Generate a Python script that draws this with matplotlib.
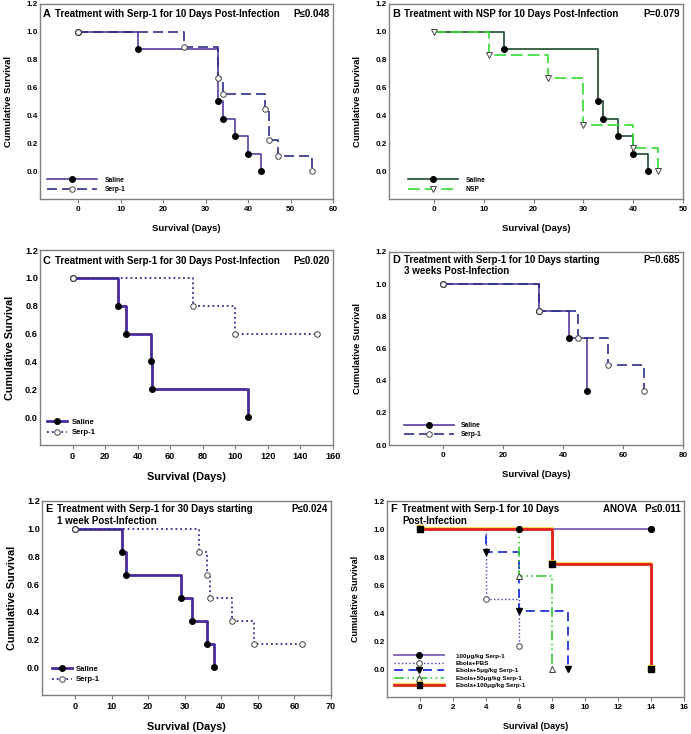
import matplotlib
matplotlib.use("Agg")
from matplotlib import pyplot as plt
from matplotlib import patheffects as pe

plt.rcParams['font.family'] = ['Liberation Sans', 'DejaVu Sans']
plt.rcParams['font.weight'] = 'bold'

# ---- data (days, cumulative survival) ----
# Panel A
a_saline_t = [0, 14, 33, 34, 37, 40, 43]
a_saline_s = [1.0, 0.875, 0.5, 0.375, 0.25, 0.125, 0.0]
a_serp_t = [0, 25, 33, 34, 44, 45, 47, 55]
a_serp_s = [1.0, 0.889, 0.667, 0.556, 0.444, 0.222, 0.111, 0.0]

# Panel B
b_saline_t = [0, 14, 33, 34, 37, 40, 43]
b_saline_s = [1.0, 0.875, 0.5, 0.375, 0.25, 0.125, 0.0]
b_nsp_t = [0, 11, 23, 30, 40, 45]
b_nsp_s = [1.0, 0.833, 0.667, 0.333, 0.167, 0.0]

# Panel C
c_saline_t = [0, 28, 33, 48, 49, 108]
c_saline_s = [1.0, 0.8, 0.6, 0.4, 0.2, 0.0]
c_serp_t = [0, 74, 100, 150]
c_serp_s = [1.0, 0.8, 0.6, 0.6]

# Panel D
d_saline_t = [0, 32, 42, 48]
d_saline_s = [1.0, 0.833, 0.667, 0.333]
d_serp_t = [0, 32, 45, 55, 67]
d_serp_s = [1.0, 0.833, 0.667, 0.5, 0.333]

# Panel E
e_saline_t = [0, 13, 14, 29, 32, 36, 38]
e_saline_s = [1.0, 0.833, 0.667, 0.5, 0.333, 0.167, 0.0]
e_serp_t = [0, 34, 36, 37, 43, 49, 62]
e_serp_s = [1.0, 0.833, 0.667, 0.5, 0.333, 0.167, 0.167]

# Panel F
f_labels = ['100\u03bcg/kg Serp-1', 'Ebola+PBS', 'Ebola+5\u03bcg/kg Serp-1',
            'Ebola+50\u03bcg/kg Serp-1', 'Ebola+100\u03bcg/kg Serp-1']
f_times = [[0, 6, 14], [0, 4, 6], [0, 4, 6, 9], [0, 6, 8], [0, 8, 14]]
f_surv = [[1.0, 1.0, 1.0], [1.0, 0.5, 0.167], [1.0, 0.833, 0.417, 0.0],
          [1.0, 0.667, 0.0], [1.0, 0.75, 0.0]]

W, H = 691, 734
fig = plt.figure(figsize=(W / 100, H / 100), dpi=100)


def make_axes(left, top, right, bottom):
    return fig.add_axes([left / W, 1 - bottom / H, (right - left) / W, (bottom - top) / H])


def style(ax, xlim, xticks, ylim, yticks, tsize, lsize, ypad=10):
    ax.set_xlim(*xlim)
    ax.set_ylim(*ylim)
    ax.set_xticks(xticks)
    ax.set_yticks(yticks)
    ax.set_yticklabels(['%.1f' % v for v in yticks])
    for s in ax.spines.values():
        s.set_color('#808080')
        s.set_linewidth(1.0)
    ax.tick_params(axis='x', direction='out', length=3, pad=2, color='#808080',
                   labelsize=tsize)
    ax.tick_params(axis='y', direction='in', length=0, pad=1.5, color='#808080',
                   labelsize=tsize)
    for lab in ax.get_xticklabels() + ax.get_yticklabels():
        lab.set_fontweight('bold')
    ax.set_xlabel('Survival (Days)', fontsize=lsize, fontweight='bold', labelpad=8)
    ax.set_ylabel('Cumulative Survival', fontsize=lsize, fontweight='bold', labelpad=ypad)


def heading(ax, letter, title, pval, tsize=7.0, y=0.975):
    ax.text(0.01, y, letter, transform=ax.transAxes, fontsize=tsize + 0.8,
            fontweight='bold', va='top', ha='left')
    ax.text(0.052, y, title, transform=ax.transAxes, fontsize=tsize,
            fontweight='bold', va='top', ha='left', linespacing=1.2)
    ax.text(0.99, y, pval, transform=ax.transAxes, fontsize=tsize,
            fontweight='bold', va='top', ha='right')


def legend(ax, fs, hl, htp, ls, anchor):
    ax.legend(loc='lower left', bbox_to_anchor=anchor, frameon=False,
              prop={'size': fs, 'weight': 'bold'}, handlelength=hl,
              handletextpad=htp, labelspacing=ls, numpoints=1,
              borderaxespad=0, borderpad=0)


purple = '#5a3c9e'
navy = '#2e2f8c'
yt = [0, .2, .4, .6, .8, 1.0, 1.2]

# ---------------- A ----------------
ax = make_axes(40, 4, 333, 199)
ax.step(a_saline_t, a_saline_s, where='post', color=purple, lw=1.2,
        marker='o', ms=4, mfc='black', mec='black', label='Saline')
ax.step(a_serp_t, a_serp_s, where='post', color=navy, lw=1.2, dashes=(6, 3),
        marker='o', ms=4, mfc='white', mec='#444444', mew=0.7, label='Serp-1')
style(ax, (-9, 60), range(0, 61, 10), (-0.2, 1.2), yt, 5.8, 6.8)
heading(ax, 'A', 'Treatment with Serp-1 for 10 Days Post-Infection', 'P\u22640.048')
legend(ax, 4.8, 7.5, 1.1, 0.35, (0.025, 0.03))

# ---------------- B ----------------
ax = make_axes(389, 4, 683, 199)
ax.step(b_saline_t, b_saline_s, where='post', color='#1e4d2b', lw=1.2,
        marker='o', ms=4, mfc='black', mec='black', markevery=slice(1, None),
        label='Saline')
ax.step(b_nsp_t, b_nsp_s, where='post', color='#33dd33', lw=1.2, dashes=(7, 3),
        marker='v', ms=4, mfc='white', mec='#444444', mew=0.7, label='NSP')
style(ax, (-9, 50), range(0, 51, 10), (-0.2, 1.2), yt, 5.8, 6.8)
heading(ax, 'B', 'Treatment with NSP for 10 Days Post-Infection', 'P=0.079')
legend(ax, 4.8, 7.5, 1.1, 0.35, (0.065, 0.03))

# ---------------- C ----------------
ax = make_axes(40, 250, 333, 445)
ax.step(c_saline_t, c_saline_s, where='post', color='#4a2a9a', lw=2.0,
        marker='o', ms=4, mfc='black', mec='black', label='Saline')
ax.step(c_serp_t, c_serp_s, where='post', color=navy, lw=1.3, ls=':',
        marker='o', ms=4, mfc='white', mec='#444444', mew=0.7, label='Serp-1')
style(ax, (-20, 160), range(0, 161, 20), (-0.2, 1.2), yt, 6.6, 7.8, ypad=7)
heading(ax, 'C', 'Treatment with Serp-1 for 30 Days Post-Infection', 'P\u22640.020', y=0.97)
legend(ax, 5.6, 2.5, 0.6, 0.4, (0.025, 0.045))

# ---------------- D ----------------
ax = make_axes(389, 252, 683, 445)
ax.step(d_saline_t, d_saline_s, where='post', color=purple, lw=1.2,
        marker='o', ms=4, mfc='black', mec='black', label='Saline')
ax.step(d_serp_t, d_serp_s, where='post', color=navy, lw=1.2, dashes=(6, 3),
        marker='o', ms=4, mfc='white', mec='#444444', mew=0.7, label='Serp-1')
style(ax, (-18, 80), range(0, 81, 20), (0, 1.2), yt, 5.8, 6.8)
heading(ax, 'D', 'Treatment with Serp-1 for 10 Days starting\n3 weeks Post-Infection',
        'P=0.685', y=0.985)
legend(ax, 4.8, 7.5, 1.1, 0.35, (0.05, 0.035))

# ---------------- E ----------------
ax = make_axes(42, 501, 331, 695)
ax.step(e_saline_t, e_saline_s, where='post', color='#4a2a9a', lw=2.0,
        marker='o', ms=4, mfc='black', mec='black', label='Saline')
ax.step(e_serp_t, e_serp_s, where='post', color=navy, lw=1.3, ls=':',
        marker='o', ms=4, mfc='white', mec='#444444', mew=0.7, label='Serp-1')
style(ax, (-9, 70), range(0, 71, 10), (-0.2, 1.2), yt, 6.6, 7.8, ypad=7)
heading(ax, 'E', 'Treatment with Serp-1 for 30 Days starting\n1 week Post-Infection',
        'P\u22640.024', y=0.985)
legend(ax, 5.6, 2.5, 0.6, 0.4, (0.035, 0.06))

# ---------------- F ----------------
ax = make_axes(387, 501, 684, 697)
f_styles = [
    dict(color='#7050b0', lw=1.2, marker='o', mfc='black', mec='black'),
    dict(color='#4040c0', lw=1.0, ls=':', marker='o', mfc='white', mec='#444444', mew=0.7),
    dict(color='#2233dd', lw=1.3, dashes=(5, 3), marker='v', mfc='black', mec='black'),
    dict(color='#33cc33', lw=1.2, dashes=(6, 2, 1, 2, 1, 2), marker='^', mfc='white',
         mec='#444444', mew=0.7),
    dict(color='#e0201a', lw=2.0, marker='s', mfc='black', mec='black',
         path_effects=[pe.SimpleLineShadow(offset=(0, 0.6), shadow_color='#ffd23a',
                                           alpha=1.0), pe.Normal()]),
]
for lab, t, s, st in zip(f_labels, f_times, f_surv, f_styles):
    ax.step(t, s, where='post', ms=4, label=lab, **st)
# markers of the first group sit on top of the red line
ax.plot(f_times[0], f_surv[0], ls='none', marker='o', ms=4, mfc='black',
        mec='black', zorder=5)
style(ax, (-2, 16), range(0, 17, 2), (-0.2, 1.2), yt, 5.8, 6.5)
heading(ax, 'F', 'Treatment with Serp-1 for 10 Days\nPost-Infection',
        'ANOVA   P\u22640.011', y=0.985)
legend(ax, 4.5, 8.0, 1.8, 0.32, (0.025, 0.045))

fig.savefig('out.png', dpi=100)
